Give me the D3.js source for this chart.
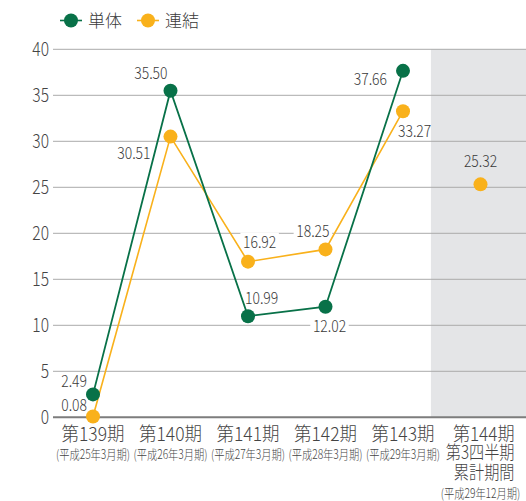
<!DOCTYPE html>
<html><head><meta charset="utf-8">
<script src="https://cdn.jsdelivr.net/npm/d3@7"></script>
<style>
html,body{margin:0;padding:0;background:#fff;}
svg{display:block;font-family:"Noto Sans CJK JP","Noto Sans",sans-serif;font-weight:300;}
</style></head>
<body>
<svg id="chart" width="526" height="501"></svg>
<script>
const categories = ["第139期","第140期","第141期","第142期","第143期","第144期"];
const subLabels = ["(平成25年3月期)","(平成26年3月期)","(平成27年3月期)","(平成28年3月期)","(平成29年3月期)","(平成29年12月期)"];
const lastExtraLines = ["第3四半期","累計期間"];
const seriesNames = ["単体","連結"];
const singleValues = [2.49, 35.50, 10.99, 12.02, 37.66, null];
const consolidatedValues = [0.08, 30.51, 16.92, 18.25, 33.27, 25.32];
const connected = [true, true, true, true, true, false];
const yTicks = [0,5,10,15,20,25,30,35,40];

// label placement (styling only): [anchor, dx, dy, whiteBox]
const singleLabelPos = [["end",-6,-7,true],["end",-3,-12,true],["start",-3,-12,true],["middle",4,25,true],["end",-16,14,true],null];
const consLabelPos = [["end",-6,-6,true],["end",-20,22,true],["start",-5,-14,true],["end",4,-12,true],["start",-5,26,false],["middle",0,-17,false]];

const W = 526, H = 501;
const GREEN = "#087148", ORANGE = "#f9b11b", TEXT = "#3a3a3a";
const svg = d3.select("#chart");

const x = d3.scalePoint().domain(categories).range([54.25, 519.25]).padding(0.5);
const y = d3.scaleLinear().domain([0, 40]).range([417.3, 49.3]);
const step = x.step();

// shaded region for cumulative period
svg.append("rect")
  .attr("x", x(categories[4]) + step * 0.36)
  .attr("y", y(40))
  .attr("width", W - (x(categories[4]) + step * 0.36))
  .attr("height", y(0) - y(40))
  .attr("fill", "#e4e5e7");

// gridlines
svg.append("g").selectAll("line").data(yTicks.filter(d => d > 0)).join("line")
  .attr("x1", 53).attr("x2", W)
  .attr("y1", d => y(d)).attr("y2", d => y(d))
  .attr("stroke", "#ababab").attr("stroke-width", 1);

function stext(parent, str, tx, ty, size, sx, anchor, fill) {
  const g = parent.append("g").attr("transform", `translate(${tx},${ty}) scale(${sx},1)`);
  const t = g.append("text").attr("x", 0).attr("y", 0)
    .attr("font-size", size).attr("text-anchor", anchor).attr("fill", fill).text(str);
  return {g, t};
}

// value labels (below lines so their white boxes only hide gridlines)
const labG = svg.append("g");
function addLabels(vals, pos) {
  vals.forEach((v, i) => {
    if (v === null || !pos[i]) return;
    const [anchor, dx, dy, box] = pos[i];
    const px = x(categories[i]) + dx, py = y(v) + dy;
    const {g, t} = stext(labG, v.toFixed(2), px, py, 16, 0.87, anchor, TEXT);
    if (box) {
      const bb = t.node().getBBox();
      g.insert("rect", "text").attr("x", bb.x - 3).attr("y", bb.y + 3)
        .attr("width", bb.width + 6).attr("height", bb.height - 6).attr("fill", "#fff");
    }
  });
}
addLabels(singleValues, singleLabelPos);
addLabels(consolidatedValues, consLabelPos);

// zero axis line
svg.append("line").attr("x1", 53).attr("x2", W)
  .attr("y1", y(0)).attr("y2", y(0))
  .attr("stroke", "#7d7d7d").attr("stroke-width", 2);

// y axis labels
const yAxisG = svg.append("g");
yTicks.forEach(v => {
  stext(yAxisG, String(v), 49, y(v) + 7, 19, 0.82, "end", "#444");
});

// x axis labels
const xAxisG = svg.append("g");
categories.forEach((c, i) => {
  const cx = x(c);
  if (i < categories.length - 1) {
    stext(xAxisG, c, cx, 440.5, 19, 0.92, "middle", "#444");
    stext(xAxisG, subLabels[i], cx, 459, 12.8, 0.8, "middle", "#444");
  } else {
    const rx = cx + 34;
    stext(xAxisG, c, rx, 440.5, 19, 0.9, "end", "#444");
    lastExtraLines.forEach((ln, k) => {
      stext(xAxisG, ln, rx, 459 + k * 20, 18.5, 0.82, "end", "#444");
    });
    stext(xAxisG, subLabels[i], cx, 498, 12.8, 0.8, "middle", "#444");
  }
});

// lines
const lineGen = d3.line()
  .defined(d => d.v !== null && d.c)
  .x(d => x(d.cat)).y(d => y(d.v));
function rows(vals) { return categories.map((cat, i) => ({cat, v: vals[i], c: connected[i]})); }

svg.append("path").datum(rows(consolidatedValues)).attr("d", lineGen)
  .attr("fill", "none").attr("stroke", ORANGE).attr("stroke-width", 1.6);
svg.append("path").datum(rows(singleValues)).attr("d", lineGen)
  .attr("fill", "none").attr("stroke", GREEN).attr("stroke-width", 1.8);

// points
svg.append("g").selectAll("circle").data(rows(consolidatedValues).filter(d => d.v !== null)).join("circle")
  .attr("cx", d => x(d.cat)).attr("cy", d => y(d.v)).attr("r", 7).attr("fill", ORANGE);
svg.append("g").selectAll("circle").data(rows(singleValues).filter(d => d.v !== null)).join("circle")
  .attr("cx", d => x(d.cat)).attr("cy", d => y(d.v)).attr("r", 7).attr("fill", GREEN);

// legend
const legend = svg.append("g");
[[GREEN, 60, seriesNames[0]], [ORANGE, 137, seriesNames[1]]].forEach(([col, lx, name]) => {
  legend.append("line").attr("x1", lx).attr("x2", lx + 22).attr("y1", 20.5).attr("y2", 20.5)
    .attr("stroke", col).attr("stroke-width", 1.6);
  legend.append("circle").attr("cx", lx + 11).attr("cy", 20.5).attr("r", 7).attr("fill", col);
  stext(legend, name, lx + 28, 27, 17, 1, "start", TEXT);
});
</script>
</body></html>
